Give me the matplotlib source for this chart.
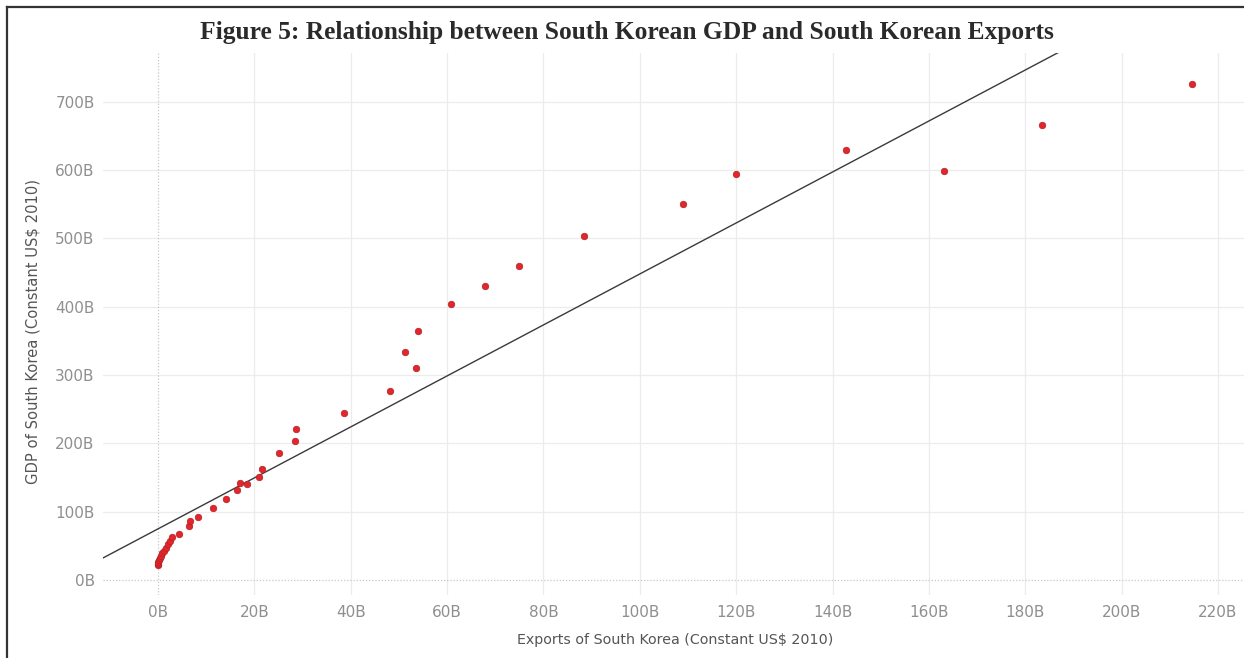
import matplotlib
matplotlib.use("Agg")
import matplotlib.pyplot as plt
from matplotlib.lines import Line2D
from matplotlib.ticker import FuncFormatter

# Exports (billion constant 2010 US$) vs GDP (billion constant 2010 US$)
exports_bn = [0.0, 0.05, 0.1, 0.2, 0.4, 0.6, 0.9, 1.2, 1.6, 2.0, 2.5, 2.9,
              4.4, 6.4, 6.6, 8.3, 11.4, 14.1, 16.4, 17.0, 18.5, 21.0, 21.6,
              25.1, 28.5, 28.7, 38.6, 48.2, 51.3, 53.6, 54.0, 60.9, 67.9,
              75.0, 88.5, 109.0, 120.0, 142.7, 163.2, 183.4, 214.7]
gdp_bn = [22, 24, 26, 29, 32, 35, 39, 43, 47, 52, 57, 63,
          67, 79, 86, 92, 105, 118, 132, 142, 140, 151, 162,
          186, 203, 221, 244, 277, 334, 310, 364, 404, 430,
          460, 503, 550, 594, 629, 598, 666, 726]

# Linear trend line (GDP = slope * exports + intercept)
trend_slope = 3.73
trend_intercept = 74.7

x_ticks = [0, 20, 40, 60, 80, 100, 120, 140, 160, 180, 200, 220]
y_ticks = [0, 100, 200, 300, 400, 500, 600, 700]

title = "Figure 5: Relationship between South Korean GDP and South Korean Exports"
x_label = "Exports of South Korea (Constant US$ 2010)"
y_label = "GDP of South Korea (Constant US$ 2010)"

fig = plt.figure(figsize=(12.44, 6.58), dpi=100)
ax = fig.add_axes([103 / 1244, 1 - 595 / 658, 1 - 103 / 1244, (595 - 53) / 658])

x_min, x_max = -11.4, 225.4
y_min, y_max = -22, 771
ax.set_xlim(x_min, x_max)
ax.set_ylim(y_min, y_max)

# grid
for t in x_ticks:
    if t != 0:
        ax.axvline(t, color="#ececec", lw=0.9, zorder=0)
for t in y_ticks:
    if t != 0:
        ax.axhline(t, color="#ececec", lw=0.9, zorder=0)
ax.axvline(0, color="#c8c8c8", lw=0.9, ls=(0, (1, 1.5)), zorder=0)
ax.axhline(0, color="#c8c8c8", lw=0.9, ls=(0, (1, 1.5)), zorder=0)

# trend line
tx = [x_min, x_max]
ty = [trend_slope * v + trend_intercept for v in tx]
ax.plot(tx, ty, color="#3a3a3a", lw=1.0, zorder=2)

# points
ax.scatter(exports_bn, gdp_bn, s=22, color="#e3262b", edgecolors="#b32025",
           linewidths=0.5, zorder=3)

for s in ax.spines.values():
    s.set_visible(False)
ax.tick_params(length=0, colors="#8f8f8f", labelsize=11)
ax.tick_params(axis="x", pad=7)
ax.tick_params(axis="y", pad=6)
ax.set_xticks(x_ticks)
ax.set_yticks(y_ticks)
fmt = FuncFormatter(lambda v, p: f"{int(v)}B")
ax.xaxis.set_major_formatter(fmt)
ax.yaxis.set_major_formatter(fmt)

fig.text(627 / 1244, 1 - 32 / 658, title, ha="center", va="center",
         family="Liberation Serif", weight="bold", fontsize=18.4, color="#2a2a2a")
fig.text(675 / 1244, 1 - 640 / 658, x_label, ha="center", va="center",
         fontsize=10.3, color="#555555")
fig.text(33 / 1244, 1 - 331 / 658, y_label, ha="center", va="center",
         rotation=90, fontsize=10.6, color="#555555")

# frame around the figure (left and top edges)
fig.add_artist(Line2D([7 / 1244, 7 / 1244], [0, 1 - 7 / 658], transform=fig.transFigure,
                      color="#333333", lw=1.6))
fig.add_artist(Line2D([7 / 1244, 1], [1 - 7 / 658, 1 - 7 / 658], transform=fig.transFigure,
                      color="#333333", lw=1.6))

fig.savefig("out.png", dpi=100, facecolor="white")
